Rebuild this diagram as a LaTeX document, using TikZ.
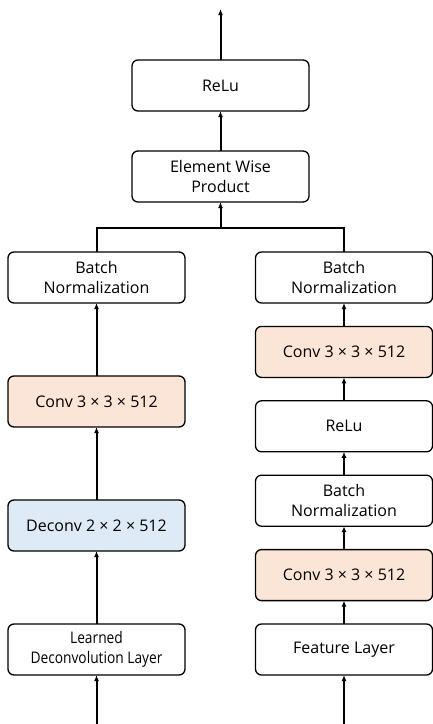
\documentclass[tikz,border=0pt]{standalone}
\usepackage{fontspec}
\setmainfont{Open Sans}
\newfontfamily\narrowfont[FakeStretch=0.86]{Open Sans}
\usepackage{tikz}
\usetikzlibrary{arrows.meta, positioning}
\definecolor{convfill}{HTML}{FBE5D6}
\definecolor{deconvfill}{HTML}{DEEBF7}
\tikzstyle{layer} = [rectangle, rounded corners=6pt,
minimum width=177pt,
minimum height=51pt,
inner sep=2pt,
outer sep=0pt,
text centered,
align=center,
line width=1.3pt,
fill=white,
draw=black]
\tikzstyle{conv} = [layer, fill=convfill]
\tikzstyle{deconv} = [layer, fill=deconvfill]
\tikzstyle{arrow} = [line width=2pt,-{Latex[length=6pt,width=5pt]},draw=black]

\begin{document}
\begin{tikzpicture}[every node/.style={font=\fontsize{16}{20}\selectfont}]

        \useasboundingbox (0,0) rectangle (433pt,-724pt);

        % Nodos
        \node (learned) [layer] at (96.5pt,-649.5pt) {\narrowfont Learned\\\narrowfont Deconvolution Layer};
        \node (deconv) [deconv, above=73pt of learned] {Deconv 2 × 2 × 512};
        \node (convL) [conv, above=73pt of deconv] {Conv 3 × 3 × 512};
        \node (bnL) [layer, above=73pt of convL] {Batch\\Normalization};

        \node (feature) [layer] at (344pt,-649.5pt) {Feature Layer};
        \node (convR1) [conv, above=23.4pt of feature] {Conv 3 × 3 × 512};
        \node (bnR1) [layer, above=23.4pt of convR1] {Batch\\Normalization};
        \node (reluR) [layer, above=23.4pt of bnR1] {ReLu};
        \node (convR2) [conv, above=23.4pt of reluR] {Conv 3 × 3 × 512};
        \node (bnR2) [layer, above=23.4pt of convR2] {Batch\\Normalization};

        \node (product) [layer] at (220.5pt,-176.5pt) {Element Wise\\Product};
        \node (relu) [layer, above=40pt of product] {ReLu};

        \coordinate [below=49pt of learned.south] (inL);
        \coordinate [below=49pt of feature.south] (inR);
        \coordinate [below=26pt of product.south] (merge);
        \coordinate [above=51pt of relu.north] (out);

        % Conexiones
        \draw [arrow] (inL) -- (learned);
        \draw [arrow] (learned) -- (deconv);
        \draw [arrow] (deconv) -- (convL);
        \draw [arrow] (convL) -- (bnL);
        \draw [arrow] (inR) -- (feature);
        \draw [arrow] (feature) -- (convR1);
        \draw [arrow] (convR1) -- (bnR1);
        \draw [arrow] (bnR1) -- (reluR);
        \draw [arrow] (reluR) -- (convR2);
        \draw [arrow] (convR2) -- (bnR2);
        \draw [line width=2pt] (bnL.north) -- (bnL.north |- merge) -- (bnR2.north |- merge) -- (bnR2.north);
        \draw [arrow] (merge) -- (product);
        \draw [arrow] (product) -- (relu);
        \draw [arrow] (relu) -- (out);

    \end{tikzpicture}
\end{document}
